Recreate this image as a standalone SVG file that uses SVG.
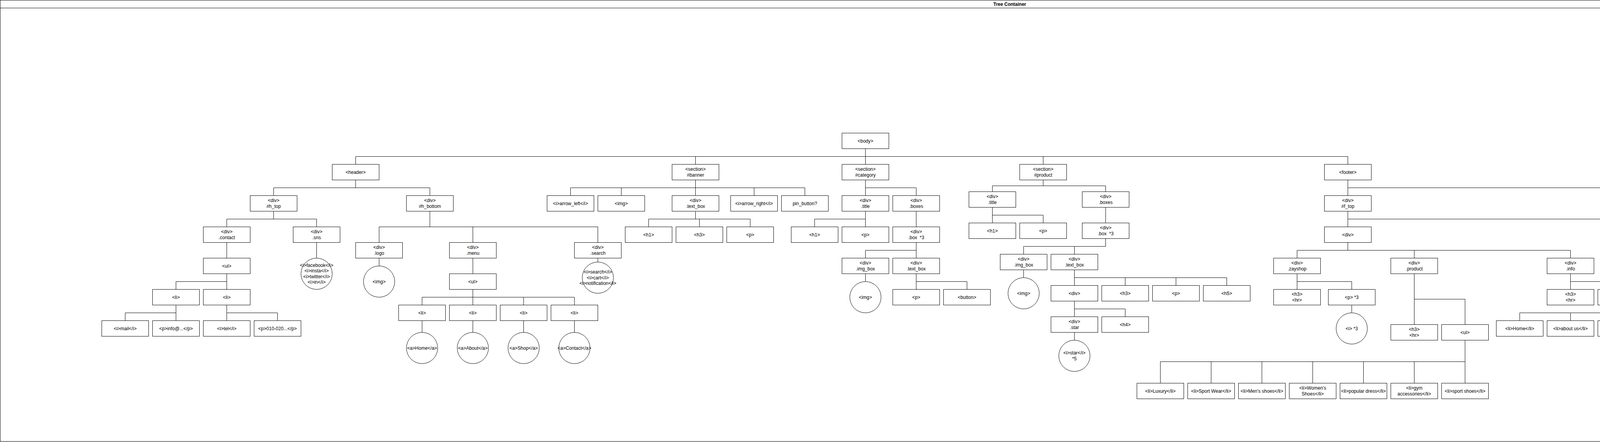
<svg xmlns="http://www.w3.org/2000/svg" width="5171" height="1131" viewBox="0 0 5171 1131">
<style>
.frame{fill:#fff;stroke:#000;stroke-width:1}
.n rect,.n ellipse{fill:#fff;stroke:#000;stroke-width:1}
.n text{font-family:"Liberation Sans",Helvetica,Arial,sans-serif;font-size:12px;fill:#000;text-anchor:middle;dominant-baseline:central}
.title{font-family:"Liberation Sans",Helvetica,Arial,sans-serif;font-size:12px;font-weight:bold;fill:#000;text-anchor:middle;dominant-baseline:central}
#connectors path{fill:none;stroke:#000;stroke-width:1}
</style>
<rect width="5171" height="1131" fill="#fff"/>
<g id="container">
<rect class="frame" x="0.5" y="0.5" width="5169" height="1129"/>
<line x1="0" y1="20.5" x2="5170" y2="20.5" stroke="#000" stroke-width="1"/>
<text class="title" x="2585" y="10.5">Tree Container</text>
</g>
<g transform="translate(0.5,0.5)">
<g id="connectors">
<path d="M2215 380V400M910 400H3450M910 400V420M1780 400V420M2215 400V420M2670 400V420M3450 400V420"/>
<path d="M910 460V480M700 480H1100M700 480V500M1100 480V500"/>
<path d="M700 540V560M580 560H810M580 560V580M810 560V580"/>
<path d="M580 620V660M810 620V660"/>
<path d="M580 700V720M450 720H580M450 720V740M580 720V740"/>
<path d="M450 780V800M320 800H450M320 800V820M450 800V820"/>
<path d="M580 780V800M580 800H710M580 800V820M710 800V820"/>
<path d="M1100 540V580M970 580H1530M970 580V620M1210 580V620M1530 580V620"/>
<path d="M970 660V680M1210 660V700M1530 660V670"/>
<path d="M1210 740V760M1080 760H1470M1080 760V780M1210 760V780M1340 760V780M1470 760V780"/>
<path d="M1080 820V850M1210 820V850M1340 820V850M1470 820V850"/>
<path d="M1780 460V480M1460 480H2060M1460 480V500M1590 480V500M1780 480V500M1930 480V500M2060 480V500"/>
<path d="M1780 540V560M1660 560H1920M1660 560V580M1790 560V580M1920 560V580"/>
<path d="M2215 460V500M2215 480H2345M2345 480V500"/>
<path d="M2215 540V580M2085 560H2215M2085 560V580"/>
<path d="M2345 540V580"/>
<path d="M2345 620V660M2215 640H2345M2215 640V660"/>
<path d="M2215 700V720"/>
<path d="M2345 700V740M2345 720H2475M2475 720V740"/>
<path d="M2670 460V475M2540 475H2830M2540 475V490M2830 475V490"/>
<path d="M2540 530V570M2540 550H2670M2670 550V570"/>
<path d="M2830 530V570"/>
<path d="M2830 610V630M2620 630H2830M2620 630V650M2750 630V650"/>
<path d="M2620 690V710"/>
<path d="M2750 690V730M2750 710H3140M2880 710V730M3010 710V730M3140 710V730"/>
<path d="M2750 770V810M2750 790H2880M2880 790V810"/>
<path d="M2750 850V870"/>
<path d="M3450 460V500M3450 480H4890M4890 480V500"/>
<path d="M3450 540V580M3450 560H4550M4420 560V580M4550 560V580"/>
<path d="M4890 540V550"/>
<path d="M3450 620V640M3320 640H4020M3320 640V660M3620 640V660M4020 640V660"/>
<path d="M3320 700V740M3320 720H3460M3460 720V740"/>
<path d="M3460 780V800"/>
<path d="M3620 700V830M3620 765H3750M3750 765V830"/>
<path d="M3750 870V980M2970 925H3750M2970 925V980M3100 925V980M3230 925V980M3360 925V980M3490 925V980M3620 925V980"/>
<path d="M4020 700V740M4020 720H4150M4150 720V740"/>
<path d="M4150 780V820M3890 800H4410M3890 800V820M4020 800V820M4280 800V820M4410 800V820"/>
<path d="M4550 620V660M4550 640H4680M4680 640V660"/>
<path d="M4550 700V720"/>
<path d="M4680 700V740M4680 720H4810M4810 720V740"/>
</g>
<g id="n-body" class="n"><rect x="2155" y="340" width="120" height="40"/><text x="2215" y="360">&lt;body&gt;</text></g>
<g id="n-header" class="n"><rect x="850" y="420" width="120" height="40"/><text x="910" y="440">&lt;header&gt;</text></g>
<g id="n-h_top" class="n"><rect x="640" y="500" width="120" height="40"/><text><tspan x="700" y="512.8">&lt;div&gt;</tspan><tspan x="700" y="527.2">#h_top</tspan></text></g>
<g id="n-contact" class="n"><rect x="520" y="580" width="120" height="40"/><text><tspan x="580" y="592.8">&lt;div&gt;</tspan><tspan x="580" y="607.2">.contact</tspan></text></g>
<g id="n-h_sns" class="n"><rect x="750" y="580" width="120" height="40"/><text><tspan x="810" y="592.8">&lt;div&gt;</tspan><tspan x="810" y="607.2">.sns</tspan></text></g>
<g id="n-h_sns_i" class="n"><ellipse cx="810" cy="700" rx="40" ry="40"/><text><tspan x="810" y="678.4">&lt;i&gt;facebook&lt;/i&gt;</tspan><tspan x="810" y="692.8">&lt;i&gt;insta&lt;/i&gt;</tspan><tspan x="810" y="707.2">&lt;i&gt;twitter&lt;/i&gt;</tspan><tspan x="810" y="721.6">&lt;i&gt;in&lt;/i&gt;</tspan></text></g>
<g id="n-contact_ul" class="n"><rect x="520" y="660" width="120" height="40"/><text x="580" y="680">&lt;ul&gt;</text></g>
<g id="n-contact_li1" class="n"><rect x="390" y="740" width="120" height="40"/><text x="450" y="760">&lt;li&gt;</text></g>
<g id="n-contact_li2" class="n"><rect x="520" y="740" width="120" height="40"/><text x="580" y="760">&lt;li&gt;</text></g>
<g id="n-mail" class="n"><rect x="260" y="820" width="120" height="40"/><text x="320" y="840">&lt;i&gt;mail&lt;/i&gt;</text></g>
<g id="n-info_p" class="n"><rect x="390" y="820" width="120" height="40"/><text x="450" y="840">&lt;p&gt;info@...&lt;/p&gt;</text></g>
<g id="n-tel" class="n"><rect x="520" y="820" width="120" height="40"/><text x="580" y="840">&lt;i&gt;tel&lt;/i&gt;</text></g>
<g id="n-phone_p" class="n"><rect x="650" y="820" width="120" height="40"/><text x="710" y="840">&lt;p&gt;010-020...&lt;/p&gt;</text></g>
<g id="n-h_bottom" class="n"><rect x="1040" y="500" width="120" height="40"/><text><tspan x="1100" y="512.8">&lt;div&gt;</tspan><tspan x="1100" y="527.2">#h_bottom</tspan></text></g>
<g id="n-logo" class="n"><rect x="910" y="620" width="120" height="40"/><text><tspan x="970" y="632.8">&lt;div&gt;</tspan><tspan x="970" y="647.2">.logo</tspan></text></g>
<g id="n-logo_img" class="n"><ellipse cx="970" cy="720" rx="40" ry="40"/><text x="970" y="720">&lt;img&gt;</text></g>
<g id="n-menu" class="n"><rect x="1150" y="620" width="120" height="40"/><text><tspan x="1210" y="632.8">&lt;div&gt;</tspan><tspan x="1210" y="647.2">.menu</tspan></text></g>
<g id="n-menu_ul" class="n"><rect x="1150" y="700" width="120" height="40"/><text x="1210" y="720">&lt;ul&gt;</text></g>
<g id="n-menu_li1" class="n"><rect x="1020" y="780" width="120" height="40"/><text x="1080" y="800">&lt;li&gt;</text></g>
<g id="n-menu_li2" class="n"><rect x="1150" y="780" width="120" height="40"/><text x="1210" y="800">&lt;li&gt;</text></g>
<g id="n-menu_li3" class="n"><rect x="1280" y="780" width="120" height="40"/><text x="1340" y="800">&lt;li&gt;</text></g>
<g id="n-menu_li4" class="n"><rect x="1410" y="780" width="120" height="40"/><text x="1470" y="800">&lt;li&gt;</text></g>
<g id="n-a_home" class="n"><ellipse cx="1080" cy="890" rx="40" ry="40"/><text x="1080" y="890">&lt;a&gt;Home&lt;/a&gt;</text></g>
<g id="n-a_about" class="n"><ellipse cx="1210" cy="890" rx="40" ry="40"/><text x="1210" y="890">&lt;a&gt;About&lt;/a&gt;</text></g>
<g id="n-a_shop" class="n"><ellipse cx="1340" cy="890" rx="40" ry="40"/><text x="1340" y="890">&lt;a&gt;Shop&lt;/a&gt;</text></g>
<g id="n-a_contact" class="n"><ellipse cx="1470" cy="890" rx="40" ry="40"/><text x="1470" y="890">&lt;a&gt;Contact&lt;/a&gt;</text></g>
<g id="n-search" class="n"><rect x="1470" y="620" width="120" height="40"/><text><tspan x="1530" y="632.8">&lt;div&gt;</tspan><tspan x="1530" y="647.2">.search</tspan></text></g>
<g id="n-search_i" class="n"><ellipse cx="1530" cy="710" rx="40" ry="40"/><text><tspan x="1530" y="695.6">&lt;i&gt;search&lt;/i&gt;</tspan><tspan x="1530" y="710">&lt;i&gt;cart&lt;/i&gt;</tspan><tspan x="1530" y="724.4">&lt;i&gt;notification&lt;/i&gt;</tspan></text></g>
<g id="n-banner" class="n"><rect x="1720" y="420" width="120" height="40"/><text><tspan x="1780" y="432.8">&lt;section&gt;</tspan><tspan x="1780" y="447.2">#banner</tspan></text></g>
<g id="n-arrow_left" class="n"><rect x="1400" y="500" width="120" height="40"/><text x="1460" y="520">&lt;i&gt;arrow_left&lt;/i&gt;</text></g>
<g id="n-banner_img" class="n"><rect x="1530" y="500" width="120" height="40"/><text x="1590" y="520">&lt;img&gt;</text></g>
<g id="n-banner_text_box" class="n"><rect x="1720" y="500" width="120" height="40"/><text><tspan x="1780" y="512.8">&lt;div&gt;</tspan><tspan x="1780" y="527.2">.text_box</tspan></text></g>
<g id="n-arrow_right" class="n"><rect x="1870" y="500" width="120" height="40"/><text x="1930" y="520">&lt;i&gt;arrow_right&lt;/i&gt;</text></g>
<g id="n-pin_button" class="n"><rect x="2000" y="500" width="120" height="40"/><text x="2060" y="520">pin_button?</text></g>
<g id="n-banner_h1" class="n"><rect x="1600" y="580" width="120" height="40"/><text x="1660" y="600">&lt;h1&gt;</text></g>
<g id="n-banner_h3" class="n"><rect x="1730" y="580" width="120" height="40"/><text x="1790" y="600">&lt;h3&gt;</text></g>
<g id="n-banner_p" class="n"><rect x="1860" y="580" width="120" height="40"/><text x="1920" y="600">&lt;p&gt;</text></g>
<g id="n-category" class="n"><rect x="2155" y="420" width="120" height="40"/><text><tspan x="2215" y="432.8">&lt;section&gt;</tspan><tspan x="2215" y="447.2">#category</tspan></text></g>
<g id="n-cat_title" class="n"><rect x="2155" y="500" width="120" height="40"/><text><tspan x="2215" y="512.8">&lt;div&gt;</tspan><tspan x="2215" y="527.2">.title</tspan></text></g>
<g id="n-cat_boxes" class="n"><rect x="2285" y="500" width="120" height="40"/><text><tspan x="2345" y="512.8">&lt;div&gt;</tspan><tspan x="2345" y="527.2">.boxes</tspan></text></g>
<g id="n-cat_h1" class="n"><rect x="2025" y="580" width="120" height="40"/><text x="2085" y="600">&lt;h1&gt;</text></g>
<g id="n-cat_p" class="n"><rect x="2155" y="580" width="120" height="40"/><text x="2215" y="600">&lt;p&gt;</text></g>
<g id="n-cat_box" class="n"><rect x="2285" y="580" width="120" height="40"/><text><tspan x="2345" y="592.8">&lt;div&gt;</tspan><tspan x="2345" y="607.2">.box&#160;&#160;*3</tspan></text></g>
<g id="n-cat_img_box" class="n"><rect x="2155" y="660" width="120" height="40"/><text><tspan x="2215" y="672.8">&lt;div&gt;</tspan><tspan x="2215" y="687.2">.img_box</tspan></text></g>
<g id="n-cat_img" class="n"><ellipse cx="2215" cy="760" rx="40" ry="40"/><text x="2215" y="760">&lt;img&gt;</text></g>
<g id="n-cat_text_box" class="n"><rect x="2285" y="660" width="120" height="40"/><text><tspan x="2345" y="672.8">&lt;div&gt;</tspan><tspan x="2345" y="687.2">.text_box</tspan></text></g>
<g id="n-cat_tb_p" class="n"><rect x="2285" y="740" width="120" height="40"/><text x="2345" y="760">&lt;p&gt;</text></g>
<g id="n-cat_button" class="n"><rect x="2415" y="740" width="120" height="40"/><text x="2475" y="760">&lt;button&gt;</text></g>
<g id="n-product" class="n"><rect x="2610" y="420" width="120" height="40"/><text><tspan x="2670" y="432.8">&lt;section&gt;</tspan><tspan x="2670" y="447.2">#product</tspan></text></g>
<g id="n-prod_title" class="n"><rect x="2480" y="490" width="120" height="40"/><text><tspan x="2540" y="502.8">&lt;div&gt;</tspan><tspan x="2540" y="517.2">.title</tspan></text></g>
<g id="n-prod_boxes" class="n"><rect x="2770" y="490" width="120" height="40"/><text><tspan x="2830" y="502.8">&lt;div&gt;</tspan><tspan x="2830" y="517.2">.boxes</tspan></text></g>
<g id="n-prod_h1" class="n"><rect x="2480" y="570" width="120" height="40"/><text x="2540" y="590">&lt;h1&gt;</text></g>
<g id="n-prod_p" class="n"><rect x="2610" y="570" width="120" height="40"/><text x="2670" y="590">&lt;p&gt;</text></g>
<g id="n-prod_box" class="n"><rect x="2770" y="570" width="120" height="40"/><text><tspan x="2830" y="582.8">&lt;div&gt;</tspan><tspan x="2830" y="597.2">.box&#160;&#160;*3</tspan></text></g>
<g id="n-prod_img_box" class="n"><rect x="2560" y="650" width="120" height="40"/><text><tspan x="2620" y="662.8">&lt;div&gt;</tspan><tspan x="2620" y="677.2">.img_box</tspan></text></g>
<g id="n-prod_img" class="n"><ellipse cx="2620" cy="750" rx="40" ry="40"/><text x="2620" y="750">&lt;img&gt;</text></g>
<g id="n-prod_text_box" class="n"><rect x="2690" y="650" width="120" height="40"/><text><tspan x="2750" y="662.8">&lt;div&gt;</tspan><tspan x="2750" y="677.2">.text_box</tspan></text></g>
<g id="n-prod_div" class="n"><rect x="2690" y="730" width="120" height="40"/><text x="2750" y="750">&lt;div&gt;</text></g>
<g id="n-prod_h3" class="n"><rect x="2820" y="730" width="120" height="40"/><text x="2880" y="750">&lt;h3&gt;</text></g>
<g id="n-prod_tb_p" class="n"><rect x="2950" y="730" width="120" height="40"/><text x="3010" y="750">&lt;p&gt;</text></g>
<g id="n-prod_h5" class="n"><rect x="3080" y="730" width="120" height="40"/><text x="3140" y="750">&lt;h5&gt;</text></g>
<g id="n-prod_star" class="n"><rect x="2690" y="810" width="120" height="40"/><text><tspan x="2750" y="822.8">&lt;div&gt;</tspan><tspan x="2750" y="837.2">.star</tspan></text></g>
<g id="n-prod_h4" class="n"><rect x="2820" y="810" width="120" height="40"/><text x="2880" y="830">&lt;h4&gt;</text></g>
<g id="n-prod_star_i" class="n"><ellipse cx="2750" cy="910" rx="40" ry="40"/><text><tspan x="2750" y="902.8">&lt;i&gt;star&lt;/i&gt;</tspan><tspan x="2750" y="917.2">*5</tspan></text></g>
<g id="n-footer" class="n"><rect x="3390" y="420" width="120" height="40"/><text x="3450" y="440">&lt;footer&gt;</text></g>
<g id="n-f_top" class="n"><rect x="3390" y="500" width="120" height="40"/><text><tspan x="3450" y="512.8">&lt;div&gt;</tspan><tspan x="3450" y="527.2">#f_top</tspan></text></g>
<g id="n-f_bottom" class="n"><rect x="4830" y="500" width="120" height="40"/><text><tspan x="4890" y="512.8">&lt;div&gt;</tspan><tspan x="4890" y="527.2">#f_bottom</tspan></text></g>
<g id="n-f_bottom_p" class="n"><ellipse cx="4890" cy="590" rx="40" ry="40"/><text x="4890" y="590">&lt;p&gt;</text></g>
<g id="n-f_div1" class="n"><rect x="3390" y="580" width="120" height="40"/><text x="3450" y="600">&lt;div&gt;</text></g>
<g id="n-f_hr" class="n"><rect x="4360" y="580" width="120" height="40"/><text x="4420" y="600">&lt;hr&gt;</text></g>
<g id="n-f_div2" class="n"><rect x="4490" y="580" width="120" height="40"/><text x="4550" y="600">&lt;div&gt;</text></g>
<g id="n-zayshop" class="n"><rect x="3260" y="660" width="120" height="40"/><text><tspan x="3320" y="672.8">&lt;div&gt;</tspan><tspan x="3320" y="687.2">.zayshop</tspan></text></g>
<g id="n-f_product" class="n"><rect x="3560" y="660" width="120" height="40"/><text><tspan x="3620" y="672.8">&lt;div&gt;</tspan><tspan x="3620" y="687.2">.product</tspan></text></g>
<g id="n-f_info" class="n"><rect x="3960" y="660" width="120" height="40"/><text><tspan x="4020" y="672.8">&lt;div&gt;</tspan><tspan x="4020" y="687.2">.info</tspan></text></g>
<g id="n-zay_h3" class="n"><rect x="3260" y="740" width="120" height="40"/><text><tspan x="3320" y="752.8">&lt;h3&gt;</tspan><tspan x="3320" y="767.2">&lt;hr&gt;</tspan></text></g>
<g id="n-zay_p" class="n"><rect x="3400" y="740" width="120" height="40"/><text x="3460" y="760">&lt;p&gt; *3</text></g>
<g id="n-zay_i" class="n"><ellipse cx="3460" cy="840" rx="40" ry="40"/><text x="3460" y="840">&lt;i&gt; *3</text></g>
<g id="n-fp_h3" class="n"><rect x="3560" y="830" width="120" height="40"/><text><tspan x="3620" y="842.8">&lt;h3&gt;</tspan><tspan x="3620" y="857.2">&lt;hr&gt;</tspan></text></g>
<g id="n-fp_ul" class="n"><rect x="3690" y="830" width="120" height="40"/><text x="3750" y="850">&lt;ul&gt;</text></g>
<g id="n-li_luxury" class="n"><rect x="2910" y="980" width="120" height="40"/><text x="2970" y="1000">&lt;li&gt;Luxury&lt;/li&gt;</text></g>
<g id="n-li_sport_wear" class="n"><rect x="3040" y="980" width="120" height="40"/><text x="3100" y="1000">&lt;li&gt;Sport Wear&lt;/li&gt;</text></g>
<g id="n-li_mens" class="n"><rect x="3170" y="980" width="120" height="40"/><text x="3230" y="1000">&lt;li&gt;Men's shoes&lt;/li&gt;</text></g>
<g id="n-li_womens" class="n"><rect x="3300" y="980" width="120" height="40"/><text><tspan x="3360" y="992.8">&lt;li&gt;Women's</tspan><tspan x="3360" y="1007.2">Shoes&lt;/li&gt;</tspan></text></g>
<g id="n-li_popular" class="n"><rect x="3430" y="980" width="120" height="40"/><text x="3490" y="1000">&lt;li&gt;popular dress&lt;/li&gt;</text></g>
<g id="n-li_gym" class="n"><rect x="3560" y="980" width="120" height="40"/><text><tspan x="3620" y="992.8">&lt;li&gt;gym</tspan><tspan x="3620" y="1007.2">accessories&lt;/li&gt;</tspan></text></g>
<g id="n-li_sport_shoes" class="n"><rect x="3690" y="980" width="120" height="40"/><text x="3750" y="1000">&lt;li&gt;sport shoes&lt;/li&gt;</text></g>
<g id="n-info_h3" class="n"><rect x="3960" y="740" width="120" height="40"/><text><tspan x="4020" y="752.8">&lt;h3&gt;</tspan><tspan x="4020" y="767.2">&lt;hr&gt;</tspan></text></g>
<g id="n-info_ul" class="n"><rect x="4090" y="740" width="120" height="40"/><text x="4150" y="760">&lt;ul&gt;</text></g>
<g id="n-li_home" class="n"><rect x="3830" y="820" width="120" height="40"/><text x="3890" y="840">&lt;li&gt;Home&lt;/li&gt;</text></g>
<g id="n-li_about" class="n"><rect x="3960" y="820" width="120" height="40"/><text x="4020" y="840">&lt;li&gt;about us&lt;/li&gt;</text></g>
<g id="n-li_shop" class="n"><rect x="4090" y="820" width="120" height="40"/><text><tspan x="4150" y="832.8">&lt;li&gt;shop</tspan><tspan x="4150" y="847.2">locations&lt;/li&gt;</tspan></text></g>
<g id="n-li_faqs" class="n"><rect x="4220" y="820" width="120" height="40"/><text x="4280" y="840">&lt;li&gt;FAQs&lt;/li&gt;</text></g>
<g id="n-li_contact" class="n"><rect x="4350" y="820" width="120" height="40"/><text x="4410" y="840">&lt;li&gt;contact&lt;/li&gt;</text></g>
<g id="n-f_sns" class="n"><rect x="4490" y="660" width="120" height="40"/><text><tspan x="4550" y="672.8">&lt;div&gt;</tspan><tspan x="4550" y="687.2">.sns</tspan></text></g>
<g id="n-f_sns_i" class="n"><ellipse cx="4550" cy="760" rx="40" ry="40"/><text><tspan x="4550" y="738.4">&lt;i&gt;facebook&lt;/i&gt;</tspan><tspan x="4550" y="752.8">&lt;i&gt;insta&lt;/i&gt;</tspan><tspan x="4550" y="767.2">&lt;i&gt;twitter&lt;/i&gt;</tspan><tspan x="4550" y="781.6">&lt;i&gt;in&lt;/i&gt;</tspan></text></g>
<g id="n-f_email" class="n"><rect x="4620" y="660" width="120" height="40"/><text><tspan x="4680" y="672.8">&lt;div&gt;</tspan><tspan x="4680" y="687.2">.email</tspan></text></g>
<g id="n-f_input" class="n"><rect x="4620" y="740" width="120" height="40"/><text x="4680" y="760">&lt;input type="email"&gt;</text></g>
<g id="n-f_button" class="n"><rect x="4750" y="740" width="120" height="40"/><text x="4810" y="760">&lt;button&gt;</text></g>
</g>
</svg>
